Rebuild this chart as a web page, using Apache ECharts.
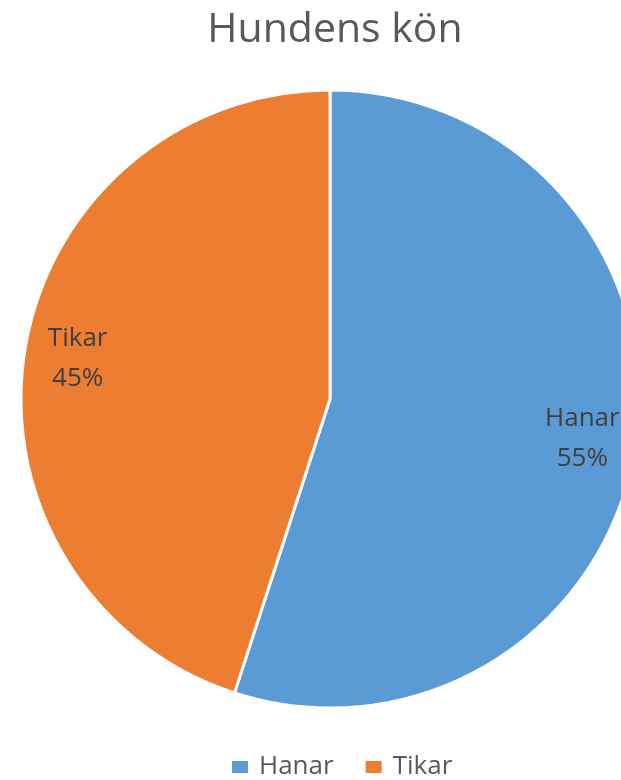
<!DOCTYPE html>
<html>
<head>
<meta charset="utf-8">
<script src="https://cdn.jsdelivr.net/npm/echarts@6/dist/echarts.min.js"></script>
<style>
  html, body { margin: 0; padding: 0; background: #fff; }
  #chart { width: 621px; height: 780px; }
</style>
</head>
<body>
<div id="chart"></div>
<script>
// 数据
var categories = ["Hanar", "Tikar"];
var values = [55, 45];
var colors = ["#5B9BD5", "#ED7D31"];

var pieData = categories.map(function (name, i) {
  return { name: name, value: values[i], itemStyle: { color: colors[i] } };
});

var myChart = echarts.init(document.getElementById("chart"));
var option = {
  backgroundColor: "#ffffff",
  title: {
    text: "Hundens kön",
    left: 330,
    textAlign: "center",
    top: 5,
    textStyle: {
      fontFamily: "Open Sans",
      fontWeight: "normal",
      fontSize: 41,
      color: "#595959",
    },
  },
  legend: {
    data: categories,
    left: 225,
    top: 749,
    itemWidth: 18,
    itemHeight: 14,
    itemGap: 30,
    icon: "rect",
    textStyle: {
      fontFamily: "Open Sans",
      fontSize: 26,
      color: "#595959",
      padding: [0, 0, 0, 5],
    },
  },
  series: [
    {
      type: "pie",
      center: [330, 399],
      radius: [0, 309],
      startAngle: 90,
      clockwise: true,
      silent: true,
      label: { show: false },
      labelLine: { show: false },
      itemStyle: { borderColor: "#ffffff", borderWidth: 3 },
      data: pieData,
    },
    {
      // 透明图层，只用来放标签
      type: "pie",
      center: [330, 399],
      radius: [196, 309],
      startAngle: 90,
      clockwise: true,
      silent: true,
      legendHoverLink: false,
      itemStyle: { color: "transparent", borderWidth: 0 },
      label: {
        show: true,
        position: "inside",
        formatter: "{b}\n{d}%",
        fontFamily: "Open Sans",
        fontSize: 26,
        lineHeight: 40,
        color: "#404040",
      },
      labelLine: { show: false },
      data: categories.map(function (name, i) {
        return { name: name, value: values[i] };
      }),
    },
  ],
};
myChart.setOption(option);
</script>
</body>
</html>
